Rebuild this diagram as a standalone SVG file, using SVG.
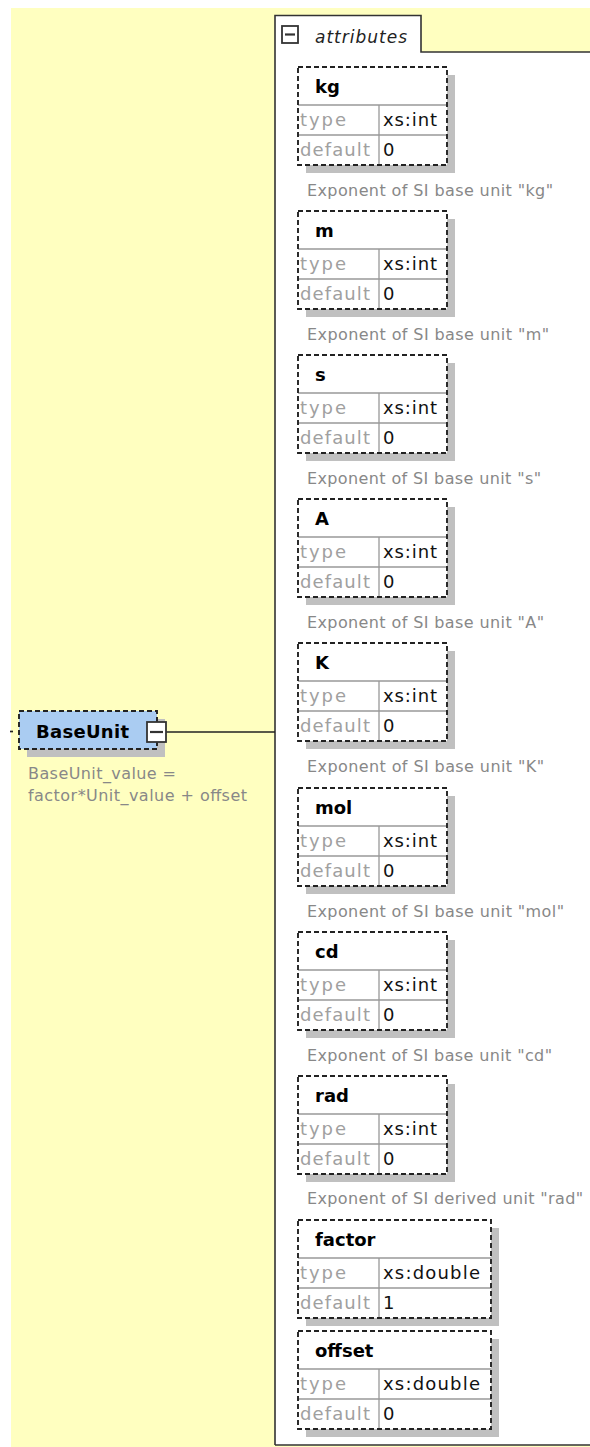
<svg xmlns="http://www.w3.org/2000/svg" width="590" height="1447" viewBox="0 0 590 1447">
<style>
.bg{fill:#FFFFC0}
.panelfill{fill:#FFFFFF;stroke:none}
.panel{fill:none;stroke:#333333;stroke-width:1.6}
.shadow{fill:#C0C0C0}
.box{fill:#FFFFFF}
.grid{fill:none;stroke:#999999;stroke-width:1.3}
.dash{fill:none;stroke:#222222;stroke-width:1.9;stroke-dasharray:5 3}
.name{font-family:"DejaVu Sans","Liberation Sans",sans-serif;font-weight:bold;font-size:18px;fill:#000000}
.lbl{font-family:"DejaVu Sans","Liberation Sans",sans-serif;font-size:18px;fill:#A0A0A0}
.val{font-family:"DejaVu Sans","Liberation Sans",sans-serif;font-size:18px;fill:#111111}
.cmt{font-family:"DejaVu Sans","Liberation Sans",sans-serif;font-size:16px;fill:#888888}
.tabtxt{font-family:"DejaVu Sans","Liberation Sans",sans-serif;font-style:italic;font-size:17px;fill:#222222}
.btn{fill:#FFFFFF;stroke:#333333;stroke-width:1.8}
.minus{stroke:#333333;stroke-width:2.2}
.conn{fill:none;stroke:#222222;stroke-width:1.7}
.elem{fill:#AACCF2}
</style>
<rect class="bg" x="11" y="8" width="579" height="1439"/>

<g id="attributes-panel">
<path class="panelfill" d="M275 15.5 H421 V52 H590 V1445 H275 Z"/>
<path class="panel" d="M275 1445 V15.5 H421 V52 H590 M275 1445 H590"/>
<rect class="btn" x="282" y="26" width="16" height="17"/>
<path class="minus" d="M285 34.5 H295"/>
<text class="tabtxt" x="315" y="43" textLength="92">attributes</text>
</g>

<g id="connectors">
<path class="conn" d="M166 732 H275"/>
<path class="conn" d="M10 731.5 H13"/>
</g>

<g id="BaseUnit">
<rect class="shadow" x="27" y="719" width="138" height="38"/>
<rect class="elem" x="19" y="711" width="138" height="38"/>
<rect class="dash" x="19" y="711" width="138" height="38"/>
<text class="name" x="36" y="738" font-size="19" textLength="93">BaseUnit</text>
<rect class="btn" x="147" y="722" width="19" height="20"/>
<path class="minus" d="M150 732 H163"/>
<text class="cmt" x="28" y="779" textLength="148">BaseUnit_value =</text>
<text class="cmt" x="28" y="801" textLength="219">factor*Unit_value + offset</text>
</g>

<g id="attr-kg">
<rect class="shadow" x="306" y="75" width="149" height="98"/>
<rect class="box" x="298" y="67" width="149" height="98"/>
<path class="grid" d="M298 105 H447 M298 135 H447 M379 105 V165"/>
<rect class="dash" x="298" y="67" width="149" height="98"/>
<text class="name" x="315" y="93">kg</text>
<text class="lbl" x="300" y="126" textLength="46">type</text>
<text class="val" x="383" y="126" textLength="54">xs:int</text>
<text class="lbl" x="300" y="156" textLength="70">default</text>
<text class="val" x="383" y="156">0</text>
<text class="cmt" x="307" y="196" textLength="246">Exponent of SI base unit "kg"</text>
</g>

<g id="attr-m">
<rect class="shadow" x="306" y="219" width="149" height="98"/>
<rect class="box" x="298" y="211" width="149" height="98"/>
<path class="grid" d="M298 249 H447 M298 279 H447 M379 249 V309"/>
<rect class="dash" x="298" y="211" width="149" height="98"/>
<text class="name" x="315" y="237">m</text>
<text class="lbl" x="300" y="270" textLength="46">type</text>
<text class="val" x="383" y="270" textLength="54">xs:int</text>
<text class="lbl" x="300" y="300" textLength="70">default</text>
<text class="val" x="383" y="300">0</text>
<text class="cmt" x="307" y="340" textLength="242">Exponent of SI base unit "m"</text>
</g>

<g id="attr-s">
<rect class="shadow" x="306" y="363" width="149" height="98"/>
<rect class="box" x="298" y="355" width="149" height="98"/>
<path class="grid" d="M298 393 H447 M298 423 H447 M379 393 V453"/>
<rect class="dash" x="298" y="355" width="149" height="98"/>
<text class="name" x="315" y="381">s</text>
<text class="lbl" x="300" y="414" textLength="46">type</text>
<text class="val" x="383" y="414" textLength="54">xs:int</text>
<text class="lbl" x="300" y="444" textLength="70">default</text>
<text class="val" x="383" y="444">0</text>
<text class="cmt" x="307" y="484" textLength="234">Exponent of SI base unit "s"</text>
</g>

<g id="attr-A">
<rect class="shadow" x="306" y="507" width="149" height="98"/>
<rect class="box" x="298" y="499" width="149" height="98"/>
<path class="grid" d="M298 537 H447 M298 567 H447 M379 537 V597"/>
<rect class="dash" x="298" y="499" width="149" height="98"/>
<text class="name" x="315" y="525">A</text>
<text class="lbl" x="300" y="558" textLength="46">type</text>
<text class="val" x="383" y="558" textLength="54">xs:int</text>
<text class="lbl" x="300" y="588" textLength="70">default</text>
<text class="val" x="383" y="588">0</text>
<text class="cmt" x="307" y="628" textLength="237">Exponent of SI base unit "A"</text>
</g>

<g id="attr-K">
<rect class="shadow" x="306" y="651" width="149" height="98"/>
<rect class="box" x="298" y="643" width="149" height="98"/>
<path class="grid" d="M298 681 H447 M298 711 H447 M379 681 V741"/>
<rect class="dash" x="298" y="643" width="149" height="98"/>
<text class="name" x="315" y="669">K</text>
<text class="lbl" x="300" y="702" textLength="46">type</text>
<text class="val" x="383" y="702" textLength="54">xs:int</text>
<text class="lbl" x="300" y="732" textLength="70">default</text>
<text class="val" x="383" y="732">0</text>
<text class="cmt" x="307" y="772" textLength="237">Exponent of SI base unit "K"</text>
</g>

<g id="attr-mol">
<rect class="shadow" x="306" y="796" width="149" height="98"/>
<rect class="box" x="298" y="788" width="149" height="98"/>
<path class="grid" d="M298 826 H447 M298 856 H447 M379 826 V886"/>
<rect class="dash" x="298" y="788" width="149" height="98"/>
<text class="name" x="315" y="814">mol</text>
<text class="lbl" x="300" y="847" textLength="46">type</text>
<text class="val" x="383" y="847" textLength="54">xs:int</text>
<text class="lbl" x="300" y="877" textLength="70">default</text>
<text class="val" x="383" y="877">0</text>
<text class="cmt" x="307" y="917" textLength="257">Exponent of SI base unit "mol"</text>
</g>

<g id="attr-cd">
<rect class="shadow" x="306" y="940" width="149" height="98"/>
<rect class="box" x="298" y="932" width="149" height="98"/>
<path class="grid" d="M298 970 H447 M298 1000 H447 M379 970 V1030"/>
<rect class="dash" x="298" y="932" width="149" height="98"/>
<text class="name" x="315" y="958">cd</text>
<text class="lbl" x="300" y="991" textLength="46">type</text>
<text class="val" x="383" y="991" textLength="54">xs:int</text>
<text class="lbl" x="300" y="1021" textLength="70">default</text>
<text class="val" x="383" y="1021">0</text>
<text class="cmt" x="307" y="1061" textLength="245">Exponent of SI base unit "cd"</text>
</g>

<g id="attr-rad">
<rect class="shadow" x="306" y="1084" width="149" height="98"/>
<rect class="box" x="298" y="1076" width="149" height="98"/>
<path class="grid" d="M298 1114 H447 M298 1144 H447 M379 1114 V1174"/>
<rect class="dash" x="298" y="1076" width="149" height="98"/>
<text class="name" x="315" y="1102">rad</text>
<text class="lbl" x="300" y="1135" textLength="46">type</text>
<text class="val" x="383" y="1135" textLength="54">xs:int</text>
<text class="lbl" x="300" y="1165" textLength="70">default</text>
<text class="val" x="383" y="1165">0</text>
<text class="cmt" x="307" y="1204" textLength="276">Exponent of SI derived unit "rad"</text>
</g>

<g id="attr-factor">
<rect class="shadow" x="306" y="1228" width="193" height="98"/>
<rect class="box" x="298" y="1220" width="193" height="98"/>
<path class="grid" d="M298 1258 H491 M298 1288 H491 M379 1258 V1318"/>
<rect class="dash" x="298" y="1220" width="193" height="98"/>
<text class="name" x="315" y="1246">factor</text>
<text class="lbl" x="300" y="1279" textLength="46">type</text>
<text class="val" x="383" y="1279" textLength="97">xs:double</text>
<text class="lbl" x="300" y="1309" textLength="70">default</text>
<text class="val" x="383" y="1309">1</text>
</g>

<g id="attr-offset">
<rect class="shadow" x="306" y="1339" width="193" height="98"/>
<rect class="box" x="298" y="1331" width="193" height="98"/>
<path class="grid" d="M298 1369 H491 M298 1399 H491 M379 1369 V1429"/>
<rect class="dash" x="298" y="1331" width="193" height="98"/>
<text class="name" x="315" y="1357">offset</text>
<text class="lbl" x="300" y="1390" textLength="46">type</text>
<text class="val" x="383" y="1390" textLength="97">xs:double</text>
<text class="lbl" x="300" y="1420" textLength="70">default</text>
<text class="val" x="383" y="1420">0</text>
</g>
</svg>
